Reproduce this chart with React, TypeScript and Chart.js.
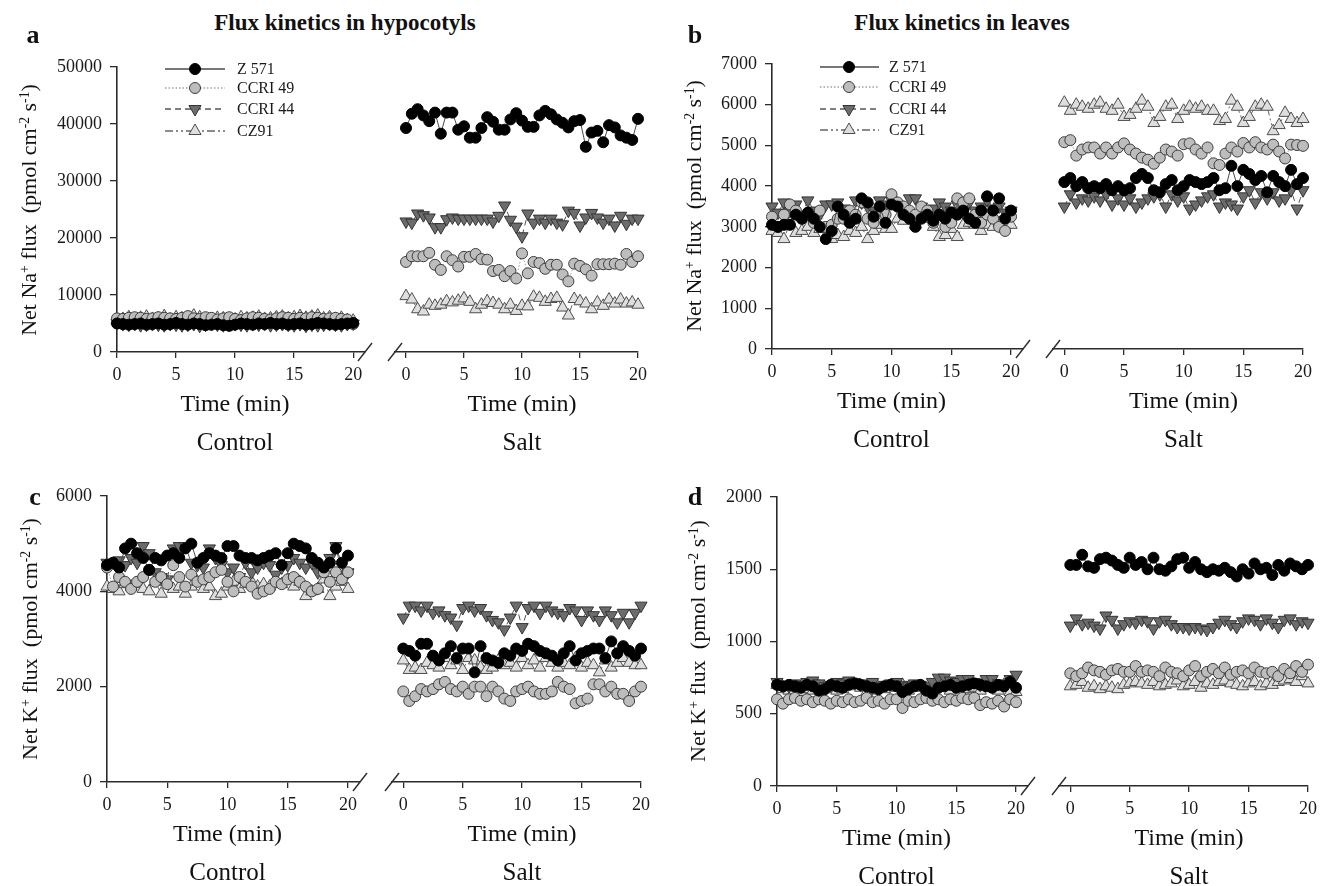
import React, { useEffect, useRef } from "react";
import { Chart, registerables } from "chart.js";

Chart.register(...registerables);

// ---------------- data ----------------
const SERIES = ["Z 571", "CCRI 49", "CCRI 44", "CZ91"];

const TIME = [
  0, 0.5, 1, 1.5, 2, 2.5, 3, 3.5, 4, 4.5,
  5, 5.5, 6, 6.5, 7, 7.5, 8, 8.5, 9, 9.5,
  10, 10.5, 11, 11.5, 12, 12.5, 13, 13.5, 14, 14.5,
  15, 15.5, 16, 16.5, 17, 17.5, 18, 18.5, 19, 19.5,
  20,
];

const X_TICKS = [0, 5, 10, 15, 20];
const Y_TICKS_NA_HYPO = [0, 10000, 20000, 30000, 40000, 50000];
const Y_TICKS_NA_LEAF = [0, 1000, 2000, 3000, 4000, 5000, 6000, 7000];
const Y_TICKS_K_HYPO = [0, 2000, 4000, 6000];
const Y_TICKS_K_LEAF = [0, 500, 1000, 1500, 2000];

// (a) Na+ hypocotyls
const A_CTRL_Z571 = [
  5000, 4900, 4800, 4900, 5000, 4800, 4900, 5000, 4800, 4900,
  5100, 4900, 4800, 5000, 4900, 4700, 4800, 4900, 4700, 4600,
  4800, 5000, 4900, 4800, 5000, 4900, 5100, 4900, 5000, 4800,
  4900, 5000, 4800, 4900, 5100, 5000, 4900, 4800, 4900, 5000,
  5100,
];
const A_CTRL_CCRI49 = [
  5900, 5800, 6000, 6100, 6000, 5800, 5900, 6100, 6000, 5900,
  5800, 6000, 6300, 5900, 5800, 6100, 6000, 5700, 5900, 6100,
  5800, 5600, 5900, 6100, 6000, 5800, 5700, 5900, 6100, 6000,
  5800, 6000, 5900, 6100, 6000, 5800, 5900, 6000, 5800, 5700,
  4900,
];
const A_CTRL_CCRI44 = [
  5100, 4900, 4800, 4900, 4700, 4800, 4900, 4800, 4700, 4900,
  4800, 4700, 4800, 4900, 4600, 4800, 4900, 4800, 4700, 4800,
  4900, 4800, 4700, 4900, 4800, 4900, 4700, 4800, 4900, 4800,
  4700, 4900, 4600, 4800, 4700, 4800, 4900, 4800, 4700, 4900,
  5000,
];
const A_CTRL_CZ91 = [
  5600, 5800, 6100, 5700, 6000, 6200, 5800, 5900, 6300, 5700,
  6100, 5900, 6000, 6400, 6100, 5800, 5700, 6000, 5900, 5600,
  5700, 6100, 5900, 6000, 6200, 5800, 5900, 6100, 6200, 5900,
  6100, 6300, 6000, 6200, 6400, 5900, 6100, 5800, 6000, 5600,
  5500,
];
const A_SALT_Z571 = [
  39300, 41800, 42600, 41500, 40500, 42000, 38300, 42000, 42000, 39000,
  39600, 37600, 37600, 39300, 41200, 40400, 39000, 39000, 40800, 41900,
  40600, 39500, 39500, 41500, 42300, 41700, 40800, 40200, 39400, 40500,
  40700, 36000, 38500, 38800, 36800, 39800, 39400, 38000, 37600, 37200,
  40900,
];
const A_SALT_CCRI49 = [
  15800, 16800, 16800, 16800, 17400, 15300, 14400, 16800, 16100, 15000,
  16700, 16700, 17200, 16300, 16200, 14200, 14400, 13300, 14200, 12900,
  17300, 13800, 15800, 15600, 14600, 15300, 15300, 13600, 12400, 15500,
  15100, 14500, 13400, 15400, 15400, 15400, 15500, 15300, 17200, 15800,
  16800,
];
const A_SALT_CCRI44 = [
  22900, 22700, 24300, 24000, 23600, 21900, 21900, 23300, 23600, 23400,
  23400, 23400, 23400, 23400, 23400, 22900, 23900, 25700, 23200, 22000,
  20300, 24300, 22700, 23400, 22700, 23400, 22700, 22400, 24800, 24400,
  22200, 23600, 24400, 23600, 22700, 23400, 22200, 23900, 22500, 23400,
  23400,
];
const A_SALT_CZ91 = [
  9800, 9200, 7500, 7100, 8300, 8100, 8300, 8900, 8700, 9000,
  9400, 8800, 7500, 8300, 8900, 8600, 8300, 7500, 8300, 7200,
  8100, 8000, 9700, 9500, 8800, 9300, 9500, 7800, 6400, 9300,
  8900, 8500, 7500, 8700, 8100, 9200, 8500, 9200, 8500, 8700,
  8300,
];

// (b) Na+ leaves
const B_CTRL_Z571 = [
  3050, 3000, 3050, 3050, 3300, 3200, 3350, 3200, 3000, 2700,
  2900, 3500, 3300, 3100, 3200, 3700, 3600, 3250, 3500, 3100,
  3550, 3500, 3300, 3200, 3000, 3200, 3300, 3150, 3300, 3200,
  3350, 3300, 3400, 3200, 3100, 3400, 3750, 3400, 3700, 3200,
  3400,
];
const B_CTRL_CCRI49 = [
  3250, 3000, 3300, 3550, 3400, 3200, 3300, 3100, 3400, 3000,
  3050, 3200, 3200, 3400, 3300, 3600, 3200, 3100, 3400, 3300,
  3800, 3600, 3500, 3400, 3300, 3500, 3400, 3100, 3300, 3000,
  3100, 3700, 3600, 3700, 3300, 3100, 3300, 3200, 3000, 2900,
  3250,
];
const B_CTRL_CCRI44 = [
  3500, 3350, 3600, 3400, 3550, 3300, 3650, 3400, 3300, 3550,
  3550, 3600, 3450, 3350, 3650, 3600, 3500, 3400, 3650, 3550,
  3650, 3550, 3450, 3700, 3700, 3500, 3350, 3450, 3600, 3500,
  3400, 3550, 3350, 3600, 3400, 3500, 3650, 3450, 3500, 3350,
  3400,
];
const B_CTRL_CZ91 = [
  2900, 2850, 2700, 3100, 2850, 2900, 3000, 2850, 2950, 2950,
  2700, 2800, 2750, 2900, 2850, 3000, 2700, 2900, 3050, 2950,
  2950, 3200, 3150, 3250, 3050, 3300, 3200, 3000, 2750, 2800,
  2950, 2750, 3050, 3100, 3050, 2900, 3050, 3000, 3100, 3050,
  3050,
];
const B_SALT_Z571 = [
  4100, 4200, 4000, 4100, 3950, 4000, 3950, 4050, 3900, 4000,
  3900, 3950, 4200, 4300, 4200, 3900, 3850, 4050, 4150, 3900,
  4000, 4150, 4100, 4050, 4100, 4200, 3900, 3950, 4500, 4000,
  4400, 4300, 4150, 4250, 3850, 4250, 4100, 4000, 4400, 4050,
  4200,
];
const B_SALT_CCRI49 = [
  5080, 5130, 4750, 4900, 4950, 4950, 4800, 4950, 4800, 4950,
  5050, 4900, 4800, 4700, 4650, 4550, 4700, 4900, 4850, 4750,
  5030, 5050, 4900, 4800, 4950, 4560, 4520, 4800, 4950, 4850,
  5060, 4950, 5080, 4950, 4900, 5020, 4850, 4680, 5020, 5010,
  4990,
];
const B_SALT_CCRI44 = [
  3500, 3800, 3600, 3700, 3650, 3750, 3650, 3800, 3550, 3700,
  3550, 3700, 3500, 3600, 3700, 3750, 3800, 3500, 3800, 3650,
  3750, 3450, 3550, 3650, 3750, 3800, 3500, 3600, 3550, 3450,
  3750, 3900, 3600, 3850, 3700, 3850, 3650, 3700, 3900, 3450,
  3900,
];
const B_SALT_CZ91 = [
  6050, 5850, 6000, 5950, 5900, 6000, 6050, 5900, 5850, 6000,
  5700, 5750, 5900, 6100, 5950, 5550, 5700, 5950, 6000, 5650,
  5850, 5950, 5900, 5950, 5850, 5850, 5600, 5650, 6100, 5950,
  5550, 5700, 5950, 6000, 5950, 5350, 5500, 5800, 5650, 5550,
  5650,
];

// (c) K+ hypocotyls
const C_CTRL_Z571 = [
  4550, 4600, 4500, 4900, 5000, 4800, 4700, 4450, 4700, 4650,
  4750, 4800, 4700, 4900, 5000, 4600, 4700, 4800, 4750, 4700,
  4950, 4950, 4750, 4700, 4700, 4650, 4700, 4750, 4800, 4550,
  4800, 5000, 4950, 4900, 4700, 4600, 4500, 4600, 4900, 4600,
  4750,
];
const C_CTRL_CCRI49 = [
  4500, 4100, 4300, 4200, 4050, 4200, 4300, 4450, 4200, 4300,
  4150, 4550, 4300, 4100, 4350, 4200, 4250, 4300, 4400, 4450,
  4200, 4000, 4300, 4200, 4100, 3950, 4000, 4050, 4200, 4150,
  4250, 4300, 4200, 4100, 4000, 4050, 4400, 4200, 4400, 4250,
  4400,
];
const C_CTRL_CCRI44 = [
  4600, 4600, 4650, 4550, 4700, 4600, 4950, 4800, 4400, 4300,
  4250, 4900, 4950, 4950, 4600, 4550, 4500, 4900, 4700, 4550,
  4400, 4500, 4300, 4600, 4400, 4500, 4600, 4550, 4350, 4500,
  4550, 4700, 4600, 4500, 4600, 4400, 4500, 4700, 4950, 4350,
  4400,
];
const C_CTRL_CZ91 = [
  4100, 4050, 4000, 4150, 4100, 4150, 4050, 4000, 4200, 3950,
  4200, 4050, 4100, 3950, 4100, 4200, 4050, 4100, 3900, 3950,
  4100, 4200, 4050, 4150, 4200, 4100, 4150, 4100, 4200, 4150,
  4250, 4100, 4200, 3900, 4000, 4050, 4250, 3900, 4100, 4200,
  4050,
];
const C_SALT_Z571 = [
  2800, 2750, 2650, 2900, 2900, 2650, 2550, 2700, 2850, 2600,
  2800, 2800, 2300, 2850, 2600, 2550, 2500, 2700, 2650, 2800,
  2750, 2900, 2850, 2750, 2700, 2650, 2550, 2700, 2850, 2550,
  2700, 2750, 2800, 2800, 2600, 2950, 2700, 2850, 2750, 2650,
  2800,
];
const C_SALT_CCRI49 = [
  1900, 1700, 1800, 1950, 1900, 1950, 2050, 2100, 1950, 1900,
  2000, 1850, 2000, 2000, 1800, 2000, 1900, 1750, 1700, 1900,
  1950, 2000, 1900, 1850, 1850, 1900, 2100, 2000, 1950, 1650,
  1700, 1750, 2050, 2050, 1900, 2000, 1850, 1850, 1700, 1900,
  2000,
];
const C_SALT_CCRI44 = [
  3450, 3700, 3700, 3600, 3700, 3550, 3600, 3500, 3450, 3300,
  3650, 3700, 3600, 3650, 3500, 3400, 3350, 3200, 3450, 3700,
  3250, 3650, 3700, 3550, 3700, 3600, 3550, 3500, 3650, 3600,
  3400, 3600, 3500, 3400, 3600, 3500, 3350, 3550, 3350, 3550,
  3700,
];
const C_SALT_CZ91 = [
  2550, 2350, 2400, 2350, 2500, 2450, 2400, 2600, 2450, 2550,
  2350, 2600, 2550, 2400, 2350, 2400, 2550, 2450, 2500, 2400,
  2600, 2450, 2550, 2400, 2600, 2500, 2400, 2500, 2450, 2600,
  2400, 2500, 2450, 2300, 2550, 2400, 2500, 2600, 2500, 2450,
  2450,
];

// (d) K+ leaves
const D_CTRL_Z571 = [
  700, 690, 700, 690, 680, 700, 690, 660, 670, 700,
  690, 680, 700, 710, 700, 690, 680, 670, 690, 700,
  690, 650, 670, 690, 700, 660, 640, 680, 690, 700,
  680, 690, 700, 710, 700, 690, 680, 700, 690, 720,
  680,
];
const D_CTRL_CCRI49 = [
  600, 570, 600, 610, 590, 600, 580, 600, 590, 570,
  590, 580, 600, 580, 590, 610, 580, 590, 570, 600,
  600, 540, 590, 580, 600, 610, 590, 600, 580, 600,
  590, 610, 600, 610, 560, 580, 570, 590, 550, 600,
  580,
];
const D_CTRL_CCRI44 = [
  720, 700, 690, 710, 700, 720, 730, 710, 690, 700,
  720, 710, 730, 720, 700, 710, 720, 690, 700, 710,
  720, 700, 690, 710, 700, 690, 720, 750, 750, 730,
  720, 740, 740, 720, 700, 740, 740, 710, 700, 740,
  770,
];
const D_CTRL_CZ91 = [
  700, 670, 660, 680, 650, 670, 660, 690, 670, 680,
  660, 670, 690, 700, 680, 650, 660, 680, 670, 690,
  680, 700, 660, 680, 690, 670, 660, 680, 690, 660,
  690, 700, 670, 680, 660, 690, 680, 660, 700, 650,
  650,
];
const D_SALT_Z571 = [
  1530, 1530, 1600, 1520, 1510, 1570, 1580, 1560, 1530, 1510,
  1580, 1530, 1550, 1500, 1580, 1500, 1490, 1520, 1570, 1580,
  1510, 1550, 1500, 1480, 1500, 1490, 1510, 1480, 1450, 1500,
  1470, 1540, 1500, 1510, 1460, 1530, 1490, 1540, 1520, 1500,
  1530,
];
const D_SALT_CCRI49 = [
  780, 760, 780, 820, 800, 790, 770, 800, 810, 790,
  790, 830, 790, 800, 790, 760, 820, 790, 780, 760,
  800, 830, 760, 790, 810, 780, 820, 770, 790, 800,
  780, 820, 790, 780, 790, 760, 810, 780, 830, 790,
  840,
];
const D_SALT_CCRI44 = [
  1110, 1160, 1120, 1130, 1110, 1090, 1180, 1150, 1090, 1120,
  1140, 1130, 1150, 1140, 1090, 1140, 1150, 1120, 1100, 1100,
  1090, 1100, 1090, 1080, 1100, 1130, 1150, 1120, 1100, 1140,
  1160, 1150, 1120, 1160, 1130, 1100, 1150, 1160, 1120, 1140,
  1130,
];
const D_SALT_CZ91 = [
  690, 700, 720, 680, 690, 670, 690, 680, 670, 700,
  710, 720, 710, 700, 720, 690, 700, 710, 730, 690,
  700, 720, 680, 710, 700, 720, 730, 710, 700, 690,
  710, 720, 690, 710, 700, 720, 730, 740, 720, 760,
  710,
];

// ---------------- styles ----------------
const FONT = '"Liberation Serif", "Times New Roman", serif';
const AXIS = "#2b2b2b";

type Style = {
  pointStyle: "circle" | "triangle";
  radius: number;
  rotation: number;
  fill: string;
  stroke: string;
  line: string;
  dash: number[];
};

const STYLES: Style[] = [
  { pointStyle: "circle", radius: 5.5, rotation: 0, fill: "#000000", stroke: "#000000", line: "#4a4a4a", dash: [] },
  { pointStyle: "circle", radius: 5.5, rotation: 0, fill: "#bdbdbd", stroke: "#3c3c3c", line: "#a0a0a0", dash: [1.5, 2] },
  { pointStyle: "triangle", radius: 7, rotation: 180, fill: "#6c6c6c", stroke: "#333333", line: "#555555", dash: [6, 4] },
  { pointStyle: "triangle", radius: 7, rotation: 0, fill: "#dedede", stroke: "#4d4d4d", line: "#666666", dash: [8, 3, 2, 3, 2, 3] },
];

type Geo = { x0: number; x20: number; top: number; bottom: number; xmin: number; xmax: number };
type LegendCfg = { x1: number; x2: number; xm: number; xt: number; ys: number[] };

function drawMarker(ctx: CanvasRenderingContext2D, st: Style, x: number, y: number) {
  ctx.beginPath();
  if (st.pointStyle === "circle") {
    ctx.arc(x, y, st.radius, 0, Math.PI * 2);
  } else {
    const r = st.radius;
    let a = (st.rotation * Math.PI) / 180;
    ctx.moveTo(x + Math.sin(a) * r, y - Math.cos(a) * r);
    a += (2 * Math.PI) / 3;
    ctx.lineTo(x + Math.sin(a) * r, y - Math.cos(a) * r);
    a += (2 * Math.PI) / 3;
    ctx.lineTo(x + Math.sin(a) * r, y - Math.cos(a) * r);
    ctx.closePath();
  }
  ctx.fillStyle = st.fill;
  ctx.fill();
  ctx.strokeStyle = st.stroke;
  ctx.lineWidth = 1;
  ctx.stroke();
}

function Plot({
  geo,
  series,
  yTicks,
  showY,
  legend,
}: {
  geo: Geo;
  series: number[][];
  yTicks: number[];
  showY: boolean;
  legend?: LegendCfg;
}) {
  const ref = useRef<HTMLCanvasElement>(null);
  const ppm = (geo.x20 - geo.x0) / 20;
  const left = geo.x0 + geo.xmin * ppm;
  const right = geo.x0 + geo.xmax * ppm;
  const padL = showY ? 110 : 24;
  const padR = 24;
  const padT = 20;
  const padB = 44;
  const cl = Math.round(left) - padL;
  const ct = geo.top - padT;
  const w = Math.round(right - left) + padL + padR;
  const h = geo.bottom - geo.top + padT + padB;

  useEffect(() => {
    const canvas = ref.current;
    if (!canvas) return;
    const breakPlugin = {
      id: "axisBreak",
      afterDraw(chart: any) {
        const { ctx, chartArea } = chart;
        const cx = showY ? chartArea.right : chartArea.left;
        const cy = chartArea.bottom;
        ctx.save();
        ctx.strokeStyle = AXIS;
        ctx.lineWidth = 1.4;
        ctx.beginPath();
        ctx.moveTo(cx - 7, cy + 9);
        ctx.lineTo(cx + 7, cy - 9);
        ctx.stroke();
        ctx.restore();
      },
    };
    const legendPlugin = {
      id: "seriesLegend",
      afterDraw(chart: any) {
        if (!legend) return;
        const ctx: CanvasRenderingContext2D = chart.ctx;
        ctx.save();
        legend.ys.forEach((py, i) => {
          const st = STYLES[i];
          const y = py - ct;
          ctx.strokeStyle = st.line;
          ctx.lineWidth = 1.3;
          ctx.setLineDash(st.dash);
          ctx.beginPath();
          ctx.moveTo(legend.x1 - cl, y);
          ctx.lineTo(legend.x2 - cl, y);
          ctx.stroke();
          ctx.setLineDash([]);
          drawMarker(ctx, st, legend.xm - cl, y);
          ctx.fillStyle = "#1a1a1a";
          ctx.font = `16px ${FONT}`;
          ctx.textAlign = "left";
          ctx.textBaseline = "middle";
          ctx.fillText(SERIES[i], legend.xt - cl, y + 1);
        });
        ctx.restore();
      },
    };

    const chart = new Chart(canvas, {
      type: "line",
      data: {
        datasets: series.map((vals, i) => {
          const st = STYLES[i];
          return {
            label: SERIES[i],
            data: TIME.map((t, k) => ({ x: t, y: vals[k] })),
            borderColor: st.line,
            borderWidth: 1,
            borderDash: st.dash,
            pointStyle: st.pointStyle,
            pointRotation: st.rotation,
            pointRadius: st.radius,
            pointHoverRadius: st.radius,
            pointBackgroundColor: st.fill,
            pointBorderColor: st.stroke,
            pointBorderWidth: 1,
            fill: false,
            tension: 0,
            clip: false as any,
          };
        }),
      },
      options: {
        responsive: false,
        maintainAspectRatio: false,
        animation: false,
        devicePixelRatio: 1,
        events: [],
        layout: { padding: { left: showY ? 0 : padL, right: padR, top: padT, bottom: 0 } },
        plugins: { legend: { display: false }, tooltip: { enabled: false }, title: { display: false } },
        scales: {
          x: {
            type: "linear",
            min: geo.xmin,
            max: geo.xmax,
            afterBuildTicks: (ax: any) => {
              ax.ticks = X_TICKS.map((v) => ({ value: v }));
            },
            afterFit: (ax: any) => {
              ax.height = padB;
            },
            grid: { display: true, drawOnChartArea: false, drawTicks: true, tickLength: 6, color: AXIS, lineWidth: 1.3 },
            border: { display: true, color: AXIS, width: 1.6 },
            ticks: {
              font: { family: FONT, size: 18 },
              color: "#1a1a1a",
              padding: 6,
              maxRotation: 0,
              autoSkip: false,
              callback: (v: any) => String(v),
            },
          },
          y: {
            type: "linear",
            display: showY,
            min: 0,
            max: yTicks[yTicks.length - 1],
            afterBuildTicks: (ax: any) => {
              ax.ticks = yTicks.map((v) => ({ value: v }));
            },
            afterFit: (ax: any) => {
              ax.width = showY ? padL : 0;
            },
            grid: { display: true, drawOnChartArea: false, drawTicks: true, tickLength: 7, color: AXIS, lineWidth: 1.3 },
            border: { display: true, color: AXIS, width: 1.6 },
            ticks: {
              font: { family: FONT, size: 18 },
              color: "#1a1a1a",
              padding: 8,
              autoSkip: false,
              callback: (v: any) => String(v),
            },
          },
        },
      } as any,
      plugins: [breakPlugin, legendPlugin],
    });
    return () => chart.destroy();
  }, []);

  return (
    <canvas
      ref={ref}
      width={w}
      height={h}
      style={{ position: "absolute", left: cl, top: ct, width: w, height: h }}
    />
  );
}

function Txt({
  x,
  y,
  size,
  bold,
  rotate,
  children,
}: {
  x: number;
  y: number;
  size: number;
  bold?: boolean;
  rotate?: boolean;
  children: React.ReactNode;
}) {
  return (
    <div
      style={{
        position: "absolute",
        left: x,
        top: y,
        transform: "translate(-50%, -50%)" + (rotate ? " rotate(-90deg)" : ""),
        whiteSpace: "nowrap",
        fontSize: size,
        fontWeight: bold ? "bold" : "normal",
        lineHeight: 1,
        color: "#111",
        fontFamily: FONT,
      }}
    >
      {children}
    </div>
  );
}

const supStyle: React.CSSProperties = { fontSize: "0.62em", verticalAlign: "0.55em", lineHeight: 0 };

function YTitle({ x, y, ion }: { x: number; y: number; ion: string }) {
  return (
    <Txt x={x} y={y} size={22} rotate>
      Net {ion}
      <span style={supStyle}>+</span> flux{"\u00a0\u00a0"}(pmol cm<span style={supStyle}>-2</span> s
      <span style={supStyle}>-1</span>)
    </Txt>
  );
}

const GEO_A_CTRL: Geo = { x0: 117, x20: 353, top: 67, bottom: 352, xmin: 0, xmax: 21 };
const GEO_A_SALT: Geo = { x0: 406, x20: 638, top: 67, bottom: 352, xmin: -0.95, xmax: 20 };
const GEO_B_CTRL: Geo = { x0: 772, x20: 1011, top: 64, bottom: 349, xmin: 0, xmax: 21 };
const GEO_B_SALT: Geo = { x0: 1064, x20: 1303, top: 64, bottom: 349, xmin: -0.95, xmax: 20 };
const GEO_C_CTRL: Geo = { x0: 107, x20: 348, top: 496, bottom: 782, xmin: 0, xmax: 21 };
const GEO_C_SALT: Geo = { x0: 403, x20: 641, top: 496, bottom: 782, xmin: -0.95, xmax: 20 };
const GEO_D_CTRL: Geo = { x0: 777, x20: 1016, top: 497, bottom: 786, xmin: 0, xmax: 21 };
const GEO_D_SALT: Geo = { x0: 1070, x20: 1308, top: 497, bottom: 786, xmin: -0.95, xmax: 20 };

function Labels({ g, label }: { g: Geo; label: string }) {
  const cx = (g.x0 + g.x20) / 2;
  return (
    <>
      <Txt x={cx} y={g.bottom + 51} size={24}>
        Time (min)
      </Txt>
      <Txt x={cx} y={g.bottom + 89} size={25}>
        {label}
      </Txt>
    </>
  );
}

export default function App() {
  return (
    <div
      style={{
        position: "absolute",
        left: 0,
        top: 0,
        width: 1326,
        height: 886,
        background: "#fff",
        overflow: "hidden",
      }}
    >
      <Plot
        geo={GEO_A_CTRL}
        series={[A_CTRL_Z571, A_CTRL_CCRI49, A_CTRL_CCRI44, A_CTRL_CZ91]}
        yTicks={Y_TICKS_NA_HYPO}
        showY
        legend={{ x1: 165, x2: 225, xm: 195, xt: 237, ys: [69, 88, 109, 131] }}
      />
      <Plot
        geo={GEO_A_SALT}
        series={[A_SALT_Z571, A_SALT_CCRI49, A_SALT_CCRI44, A_SALT_CZ91]}
        yTicks={Y_TICKS_NA_HYPO}
        showY={false}
      />
      <Plot
        geo={GEO_B_CTRL}
        series={[B_CTRL_Z571, B_CTRL_CCRI49, B_CTRL_CCRI44, B_CTRL_CZ91]}
        yTicks={Y_TICKS_NA_LEAF}
        showY
        legend={{ x1: 820, x2: 879, xm: 849, xt: 889, ys: [67, 87, 109, 130] }}
      />
      <Plot
        geo={GEO_B_SALT}
        series={[B_SALT_Z571, B_SALT_CCRI49, B_SALT_CCRI44, B_SALT_CZ91]}
        yTicks={Y_TICKS_NA_LEAF}
        showY={false}
      />
      <Plot
        geo={GEO_C_CTRL}
        series={[C_CTRL_Z571, C_CTRL_CCRI49, C_CTRL_CCRI44, C_CTRL_CZ91]}
        yTicks={Y_TICKS_K_HYPO}
        showY
      />
      <Plot
        geo={GEO_C_SALT}
        series={[C_SALT_Z571, C_SALT_CCRI49, C_SALT_CCRI44, C_SALT_CZ91]}
        yTicks={Y_TICKS_K_HYPO}
        showY={false}
      />
      <Plot
        geo={GEO_D_CTRL}
        series={[D_CTRL_Z571, D_CTRL_CCRI49, D_CTRL_CCRI44, D_CTRL_CZ91]}
        yTicks={Y_TICKS_K_LEAF}
        showY
      />
      <Plot
        geo={GEO_D_SALT}
        series={[D_SALT_Z571, D_SALT_CCRI49, D_SALT_CCRI44, D_SALT_CZ91]}
        yTicks={Y_TICKS_K_LEAF}
        showY={false}
      />

      <Txt x={345} y={22} size={23} bold>
        Flux kinetics in hypocotyls
      </Txt>
      <Txt x={962} y={22} size={23} bold>
        Flux kinetics in leaves
      </Txt>
      <Txt x={33} y={35} size={26} bold>
        a
      </Txt>
      <Txt x={695} y={35} size={26} bold>
        b
      </Txt>
      <Txt x={35} y={497} size={26} bold>
        c
      </Txt>
      <Txt x={695} y={497} size={26} bold>
        d
      </Txt>

      <YTitle x={29} y={210} ion="Na" />
      <YTitle x={694} y={206} ion="Na" />
      <YTitle x={30} y={639} ion="K" />
      <YTitle x={698} y={641} ion="K" />

      <Labels g={GEO_A_CTRL} label="Control" />
      <Labels g={GEO_A_SALT} label="Salt" />
      <Labels g={GEO_B_CTRL} label="Control" />
      <Labels g={GEO_B_SALT} label="Salt" />
      <Labels g={GEO_C_CTRL} label="Control" />
      <Labels g={GEO_C_SALT} label="Salt" />
      <Labels g={GEO_D_CTRL} label="Control" />
      <Labels g={GEO_D_SALT} label="Salt" />
    </div>
  );
}
